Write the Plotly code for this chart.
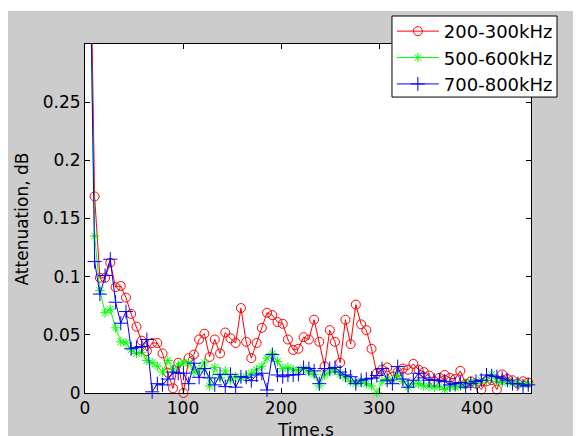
import plotly.graph_objects as go

time_s = [4.5, 9.8, 15.2, 20.5, 25.8, 31.2, 36.5, 41.8, 47.1, 52.5,
          57.8, 63.1, 68.5, 73.8, 79.1, 84.5, 89.8, 95.1, 100.4, 105.8,
          111.1, 116.4, 121.8, 127.1, 132.4, 137.8, 143.1, 148.4, 153.7, 159.1,
          164.4, 169.7, 175.1, 180.4, 185.7, 191.1, 196.4, 201.7, 207.0, 212.4,
          217.7, 223.0, 228.4, 233.7, 239.0, 244.4, 249.7, 255.0, 260.3, 265.7,
          271.0, 276.3, 281.7, 287.0, 292.3, 297.7, 303.0, 308.3, 313.6, 319.0,
          324.3, 329.6, 335.0, 340.3, 345.6, 351.0, 356.3, 361.6, 366.9, 372.3,
          377.6, 382.9, 388.3, 393.6, 398.9, 404.3, 409.6, 414.9, 420.2, 425.6,
          430.9, 436.2, 441.6, 446.9, 452.2]

att_200_300 = [0.45, 0.169, 0.099, 0.099, 0.112, 0.091, 0.092, 0.082, 0.068, 0.057,
               0.045, 0.036, 0.043, 0.043, 0.034, 0.0175, 0.004, 0.026, 0.0, 0.030,
               0.033, 0.046, 0.051, 0.031, 0.046, 0.034, 0.052, 0.047, 0.043, 0.073,
               0.044, 0.030, 0.043, 0.056, 0.069, 0.067, 0.061, 0.0595, 0.046, 0.037,
               0.038, 0.048, 0.046, 0.063, 0.044, 0.023, 0.054, 0.044, 0.026, 0.063,
               0.042, 0.076, 0.059, 0.054, 0.038, 0.017, 0.020, 0.022, 0.014, 0.018,
               0.021, 0.020, 0.025, 0.020, 0.018, 0.015, 0.010, 0.013, 0.0155, 0.013,
               0.012, 0.019, 0.008, 0.010, 0.008, 0.003, 0.010, 0.011, 0.003, 0.016,
               0.012, 0.011, 0.008, 0.010, 0.009]

att_500_600 = [0.40, 0.135, 0.088, 0.069, 0.072, 0.056, 0.044, 0.043, 0.037, 0.034,
               0.035, 0.028, 0.026, 0.023, 0.018, 0.028, 0.020, 0.024, 0.026, 0.026,
               0.018, 0.020, 0.026, 0.006, 0.022, 0.013, 0.019, 0.011, 0.014, 0.013,
               0.014, 0.017, 0.020, 0.023, 0.030, 0.034, 0.027, 0.021, 0.022, 0.020,
               0.019, 0.021, 0.018, 0.016, 0.006, 0.0155, 0.018, 0.020, 0.016, 0.013,
               0.010, 0.008, 0.010, 0.008, 0.006, 0.000, 0.010, 0.012, 0.011, 0.0155,
               0.010, 0.005, 0.008, 0.008, 0.006, 0.006, 0.005, 0.006, 0.003, 0.006,
               0.005, 0.006, 0.008, 0.010, 0.008, 0.011, 0.011, 0.016, 0.010, 0.009,
               0.010, 0.008, 0.009, 0.007, 0.008]

att_700_800 = [0.42, 0.113, 0.085, 0.101, 0.115, 0.078, 0.060, 0.070, 0.038, 0.039,
               0.040, 0.046, 0.001, 0.008, 0.007, 0.012, 0.018, 0.017, 0.017, 0.008,
               0.0256, 0.0135, 0.021, 0.013, 0.007, 0.016, 0.0055, 0.016, 0.005, 0.014,
               0.0135, 0.0106, 0.0155, 0.017, 0.0026, 0.033, 0.0155, 0.014, 0.0155, 0.0155,
               0.016, 0.022, 0.021, 0.019, 0.008, 0.021, 0.021, 0.022, 0.018, 0.0155,
               0.014, 0.008, 0.011, 0.012, 0.0127, 0.015, 0.021, 0.011, 0.008, 0.0227,
               0.012, 0.005, 0.011, 0.017, 0.013, 0.011, 0.011, 0.011, 0.010, 0.007,
               0.008, 0.009, 0.005, 0.008, 0.010, 0.011, 0.0155, 0.0147, 0.014, 0.0127,
               0.011, 0.008, 0.008, 0.006, 0.007]

series_names = ["200-300kHz", "500-600kHz", "700-800kHz"]
x_ticks = [0, 100, 200, 300, 400]
y_ticks = [0, 0.05, 0.1, 0.15, 0.2, 0.25]
y_tick_labels = ["0", "0.05", "0.1", "0.15", "0.2", "0.25"]

FONT = "DejaVu Sans"

fig = go.Figure()
fig.add_trace(go.Scatter(x=time_s, y=att_200_300, name=series_names[0], mode="lines+markers",
                         line=dict(color="#ff0000", width=1),
                         marker=dict(symbol="circle-open", size=9, color="#ff0000",
                                     line=dict(width=1, color="#ff0000")),
                         cliponaxis=False))
fig.add_trace(go.Scatter(x=time_s, y=att_500_600, name=series_names[1], mode="lines+markers",
                         line=dict(color="#00ff00", width=1),
                         marker=dict(symbol="asterisk-open", size=8, color="#00ff00",
                                     line=dict(width=1, color="#00ff00")),
                         cliponaxis=False))
fig.add_trace(go.Scatter(x=time_s, y=att_700_800, name=series_names[2], mode="lines+markers",
                         line=dict(color="#0000ff", width=1),
                         marker=dict(symbol="cross-thin-open", size=10, color="#0000ff",
                                     line=dict(width=1, color="#0000ff")),
                         cliponaxis=False))

fig.update_layout(
    width=573, height=428,
    margin=dict(l=77, r=50, t=36, b=43, autoexpand=False),
    paper_bgcolor="#cccccc",
    plot_bgcolor="#ffffff",
    font=dict(family=FONT, size=17, color="#000000"),
    showlegend=True,
    legend=dict(x=0.688, y=1.089, xanchor="left", yanchor="top",
                bgcolor="rgba(0,0,0,0)", borderwidth=0,
                font=dict(family=FONT, size=18, color="#000000"),
                itemwidth=42, tracegroupgap=0),
    xaxis=dict(range=[0, 455], tickvals=x_ticks, ticks="inside", ticklen=5,
               tickcolor="#000000", showline=True, linecolor="#000000", linewidth=1,
               mirror="ticks", showgrid=False, zeroline=False,
               tickfont=dict(family=FONT, size=17)),
    yaxis=dict(range=[0, 0.3], tickvals=y_ticks, ticktext=y_tick_labels, ticks="inside",
               ticklen=5, tickcolor="#000000", showline=True, linecolor="#000000",
               linewidth=1, mirror="ticks", showgrid=False, zeroline=False,
               tickfont=dict(family=FONT, size=17)),
    annotations=[
        dict(text="Attenuation, dB", xref="paper", yref="paper", x=-0.1413, y=0.5,
             textangle=-90, showarrow=False, xanchor="center", yanchor="middle",
             font=dict(family=FONT, size=17)),
        dict(text="Time,s", xref="paper", yref="paper", x=0.495, y=-0.106,
             showarrow=False, xanchor="center", yanchor="middle",
             font=dict(family=FONT, size=17)),
    ],
    shapes=[
        dict(type="rect", xref="paper", yref="paper", x0=-0.25, x1=1.25,
             y0=1.0946, y1=1.2, fillcolor="#ffffff", line=dict(width=0), layer="below"),
        # legend box
        dict(type="rect", xref="paper", yref="paper", x0=0.6883, x1=1.0583,
             y0=0.848, y1=1.0802, fillcolor="#ffffff",
             line=dict(width=1, color="#000000"), layer="above"),
    ],
)

fig.write_html("out.html")
